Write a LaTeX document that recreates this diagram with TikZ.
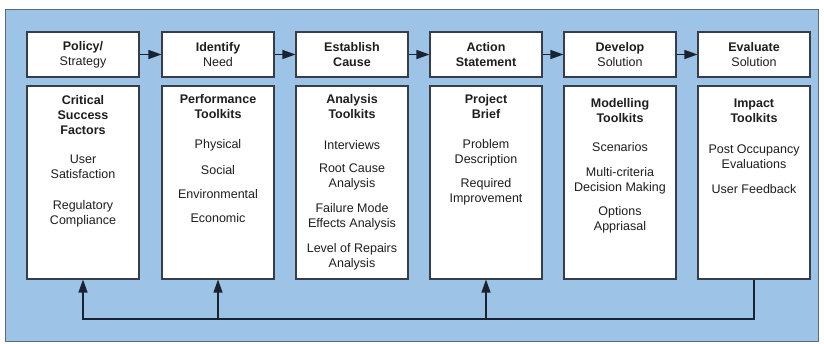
\documentclass[tikz,border=0pt]{standalone}
\usepackage{fontspec}
\setmainfont{Liberation Sans}
\usetikzlibrary{arrows.meta}
\definecolor{bgblue}{RGB}{157,195,230}
\definecolor{bgedge}{RGB}{90,105,125}
\definecolor{boxedge}{RGB}{55,62,75}
\definecolor{txt}{RGB}{30,30,30}
\definecolor{linec}{RGB}{25,35,50}
\tikzset{
  topbox/.style={draw=boxedge, line width=1.1pt, fill=white, minimum width=112pt, minimum height=45pt, inner sep=0pt},
  lowbox/.style={draw=boxedge, line width=1.1pt, fill=white, minimum width=112pt, minimum height=193pt, inner sep=0pt},
  lbl/.style={text=txt, font=\fontsize{12.5}{15}\selectfont, align=center, inner sep=0pt},
  arr/.style={draw=linec, line width=1.2pt, -{Triangle[length=13pt,width=9pt]}},
}
\begin{document}
\begin{tikzpicture}[x=1pt,y=-1pt]
\useasboundingbox (0,0) rectangle (824,343);
\fill[white] (0,0) rectangle (824,343);
\draw[bgedge, fill=bgblue, line width=1pt] (5,9) rectangle (818,341);

% top boxes
\node[topbox] (t1) at (83,54.5) {};
\node[topbox] (t2) at (218,54.5) {};
\node[topbox] (t3) at (352,54.5) {};
\node[topbox] (t4) at (486,54.5) {};
\node[topbox] (t5) at (620,54.5) {};
\node[topbox] (t6) at (754,54.5) {};

\node[lbl] (t1x) at (83,54.5) {\textbf{Policy/}\\Strategy};
\node[lbl] (t2x) at (218,54.5) {\textbf{Identify}\\Need};
\node[lbl] (t3x) at (352,54.5) {\textbf{Establish}\\\textbf{Cause}};
\node[lbl] (t4x) at (486,54.5) {\textbf{Action}\\\textbf{Statement}};
\node[lbl] (t5x) at (620,54.5) {\textbf{Develop}\\Solution};
\node[lbl] (t6x) at (754,54.5) {\textbf{Evaluate}\\Solution};

\draw[arr] (t1.east) -- (t2.west);
\draw[arr] (t2.east) -- (t3.west);
\draw[arr] (t3.east) -- (t4.west);
\draw[arr] (t4.east) -- (t5.west);
\draw[arr] (t5.east) -- (t6.west);

% lower boxes
\node[lowbox] (l1) at (83,182.5) {};
\node[lowbox] (l2) at (218,182.5) {};
\node[lowbox] (l3) at (352,182.5) {};
\node[lowbox] (l4) at (486,182.5) {};
\node[lowbox] (l5) at (620,182.5) {};
\node[lowbox] (l6) at (754,182.5) {};

% box 1
\node[lbl] (a1) at (83,115) {\textbf{Critical}\\\textbf{Success}\\\textbf{Factors}};
\node[lbl] (a2) at (83,167) {User\\Satisfaction};
\node[lbl] (a3) at (83,213.5) {Regulatory\\Compliance};
% box 2
\node[lbl] (b1) at (218,107) {\textbf{Performance}\\\textbf{Toolkits}};
\node[lbl] (b2) at (218,145) {Physical};
\node[lbl] (b3) at (218,170) {Social};
\node[lbl] (b4) at (218,194) {Environmental};
\node[lbl] (b5) at (218,218) {Economic};
% box 3
\node[lbl] (c1) at (352,107) {\textbf{Analysis}\\\textbf{Toolkits}};
\node[lbl] (c2) at (352,145) {Interviews};
\node[lbl] (c3) at (352,177) {Root Cause\\Analysis};
\node[lbl] (c4) at (352,217) {Failure Mode\\Effects Analysis};
\node[lbl] (c5) at (352,257) {Level of Repairs\\Analysis};
% box 4
\node[lbl] (d1) at (486,107) {\textbf{Project}\\\textbf{Brief}};
\node[lbl] (d2) at (486,153) {Problem\\Description};
\node[lbl] (d3) at (486,192) {Required\\Improvement};
% box 5
\node[lbl] (e1) at (620,110.5) {\textbf{Modelling}\\\textbf{Toolkits}};
\node[lbl] (e2) at (620,147) {Scenarios};
\node[lbl] (e3) at (620,180.5) {Multi-criteria\\Decision Making};
\node[lbl] (e4) at (620,219.5) {Options\\Appriasal};
% box 6
\node[lbl] (f1) at (754,110.5) {\textbf{Impact}\\\textbf{Toolkits}};
\node[lbl] (f2) at (754,157) {Post Occupancy\\Evaluations};
\node[lbl] (f3) at (754,189) {User Feedback};

% feedback loop
\coordinate (fb) at (0,319);
\draw[arr] (l6.south) |- (fb -| l1.south) -- (l1.south);
\draw[arr] (fb -| l2.south) -- (l2.south);
\draw[arr] (fb -| l4.south) -- (l4.south);
\end{tikzpicture}
\end{document}
